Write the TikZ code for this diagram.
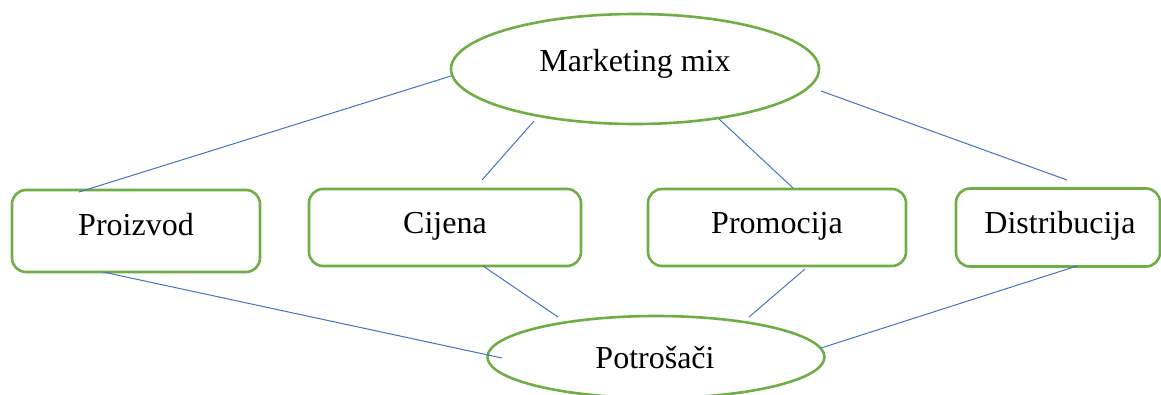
\documentclass[tikz,border=0pt]{standalone}
\usepackage{fontspec}
\setmainfont{Liberation Serif}
\usetikzlibrary{shapes.geometric}
\definecolor{wgreen}{RGB}{112,173,71}
\definecolor{wblue}{RGB}{68,114,196}
\begin{document}
\begin{tikzpicture}[x=1pt,y=-1pt,
  oval/.style={ellipse,draw=wgreen,line width=2.6pt,fill=white,inner sep=0pt},
  card/.style={rectangle,rounded corners=14pt,draw=wgreen,line width=2.6pt,fill=white,inner sep=0pt},
  lbl/.style={anchor=base,inner sep=0pt,font=\fontsize{32}{38}\selectfont},
  link/.style={draw=wblue,line width=1pt}]
\useasboundingbox (0,0) rectangle (1161,394);
% links
\coordinate (a1) at (451,76);   \coordinate (a2) at (79,192);
\coordinate (b1) at (534,121);  \coordinate (b2) at (482,180);
\coordinate (c1) at (719,119);  \coordinate (c2) at (793,188);
\coordinate (d1) at (821,91);   \coordinate (d2) at (1067,180);
\coordinate (e1) at (103,272);  \coordinate (e2) at (502,358);
\coordinate (f1) at (483,266);  \coordinate (f2) at (558,317);
\coordinate (g1) at (805,269);  \coordinate (g2) at (749,317);
\coordinate (h1) at (1077,266); \coordinate (h2) at (821,348);
% shapes
\node[oval,minimum width=368pt,minimum height=110pt] (mm) at (635,69) {};
\node[oval,minimum width=337pt,minimum height=82pt] (pot) at (656,357) {};
\node[card,minimum width=248pt,minimum height=82pt] (pro) at (136,231) {};
\node[card,minimum width=272pt,minimum height=77pt] (cij) at (445,227.5) {};
\node[card,minimum width=258pt,minimum height=77pt] (prm) at (777,227.5) {};
\node[card,minimum width=204pt,minimum height=78pt] (dis) at (1058,227.5) {};
\draw[link] (a1) -- (a2);
\draw[link] (b1) -- (b2);
\draw[link] (c1) -- (c2);
\draw[link] (d1) -- (d2);
\draw[link] (e1) -- (e2);
\draw[link] (f1) -- (f2);
\draw[link] (g1) -- (g2);
\draw[link] (h1) -- (h2);
% texts
\node[lbl] (tmm) at (635,71) {Marketing mix};
\node[lbl] (tpot) at (655,368) {Potrošači};
\node[lbl] (tpro) at (136,235) {Proizvod};
\node[lbl] (tcij) at (445,233) {Cijena};
\node[lbl] (tprm) at (777,233) {Promocija};
\node[lbl] (tdis) at (1060,233) {Distribucija};
\end{tikzpicture}
\end{document}
